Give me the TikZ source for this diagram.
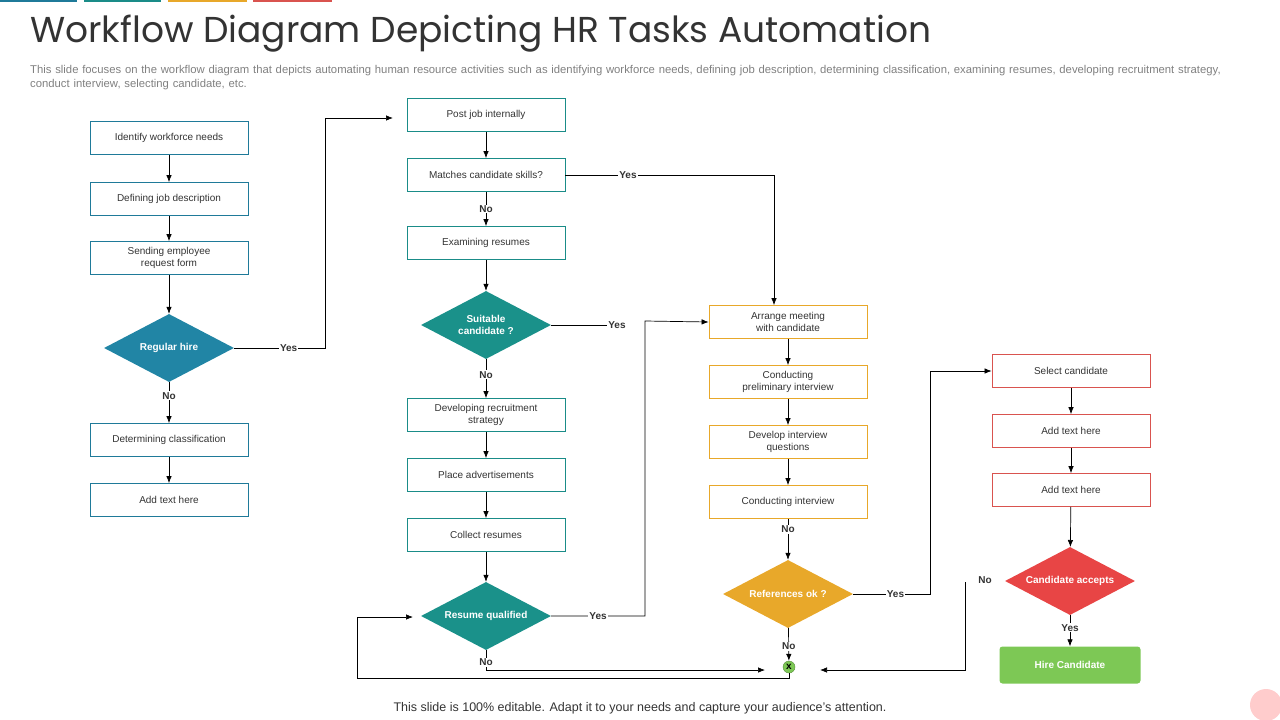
\documentclass[tikz,border=0pt]{standalone}
\usepackage{fontspec}
\setmainfont{Liberation Sans}
\newfontfamily\titlefont{Poppins}
\usetikzlibrary{shapes.geometric,arrows.meta}
\definecolor{cblue}{HTML}{1F7A99}
\definecolor{cteal}{HTML}{1A8C88}
\definecolor{cyel}{HTML}{E8A82A}
\definecolor{cred}{HTML}{D9534F}
\definecolor{dblue}{HTML}{2185A5}
\definecolor{dteal}{HTML}{1A918A}
\definecolor{dred}{HTML}{E84545}
\definecolor{cgreen}{HTML}{7DC855}
\definecolor{tgrey}{HTML}{333333}
\begin{document}
\begin{tikzpicture}[x=1pt,y=-1pt,
 box/.style={draw=#1,line width=0.8pt,minimum width=158pt,minimum height=33pt,align=center,font=\fontsize{10}{11.5}\selectfont,text=tgrey,inner sep=1pt},
 dia/.style={diamond,fill=#1,aspect=1.9,minimum width=130pt,minimum height=68pt,inner sep=0pt,align=center,text=white,font=\bfseries\fontsize{10}{11.5}\selectfont},
 lab/.style={font=\bfseries\fontsize{10}{11}\selectfont,text=tgrey,inner sep=1pt},
 ar/.style={-{Latex[length=7pt,width=5.5pt]},line width=0.7pt},
 ln/.style={line width=0.7pt}]
\useasboundingbox (0,0) rectangle (1280,720);
\fill[cblue] (0,0) rectangle (77,2);
\fill[cteal] (84,0) rectangle (161,2);
\fill[cyel] (168,0) rectangle (247,2);
\fill[cred] (253,0) rectangle (332,2);
\fill[red!20] (1266,705) circle (16);
\node[anchor=west,inner sep=0,font=\titlefont\fontsize{36}{40}\selectfont,text=tgrey] (title) at (30,34) {Workflow Diagram Depicting HR Tasks Automation};
\node[anchor=north west,inner sep=0,text width=1215pt,align=left,font=\fontsize{11.3}{14}\selectfont,text=gray] (sub) at (30,65) {\hyphenpenalty=10000 This slide focuses on the workflow diagram that depicts automating human resource activities such as identifying workforce needs, defining job description, determining classification, examining resumes, developing recruitment strategy, conduct interview, selecting candidate, etc.};
% column 1
\node[box=cblue] (a1) at (169,138) {Identify workforce needs};
\node[box=cblue] (a2) at (169,199) {Defining job description};
\node[box=cblue] (a3) at (169,258) {Sending employee\\request form};
\node[dia=dblue] (a4) at (169,348) {Regular hire};
\node[box=cblue] (a5) at (169,440) {Determining classification};
\node[box=cblue] (a6) at (169,500) {Add text here};
% column 2
\node[box=cteal] (b1) at (486,115) {Post job internally};
\node[box=cteal] (b2) at (486,175) {Matches candidate skills?};
\node[box=cteal] (b3) at (486,243) {Examining resumes};
\node[dia=dteal] (b4) at (486,325) {Suitable\\candidate ?};
\node[box=cteal] (b5) at (486,415) {Developing recruitment\\strategy};
\node[box=cteal] (b6) at (486,475) {Place advertisements};
\node[box=cteal] (b7) at (486,535) {Collect resumes};
\node[dia=dteal] (b8) at (486,616) {Resume qualified};
% column 3
\node[box=cyel] (c1) at (788,322) {Arrange meeting\\with candidate};
\node[box=cyel] (c2) at (788,382) {Conducting\\preliminary interview};
\node[box=cyel] (c3) at (788,442) {Develop interview\\questions};
\node[box=cyel] (c4) at (788,502) {Conducting interview};
\node[dia=cyel] (c5) at (788,594) {References ok ?};
% column 4
\node[box=cred] (d1) at (1071,371) {Select candidate};
\node[box=cred] (d2) at (1071,431) {Add text here};
\node[box=cred] (d3) at (1071,490) {Add text here};
\node[dia=dred] (d4) at (1070,581) {Candidate accepts};
\node[fill=cgreen,rounded corners=3pt,minimum width=141pt,minimum height=37pt,text=white,font=\bfseries\fontsize{10}{11}\selectfont] (d5) at (1070,665) {Hire Candidate};
% junction
\node[circle,fill=cgreen,draw=cgreen!70!black,minimum size=12pt,inner sep=0,font=\bfseries\fontsize{10}{10}\selectfont] (x) at (789,667) {x};
\node[inner sep=0,font=\fontsize{12.5}{14}\selectfont,text=tgrey] (foot) at (640,708) {This slide is 100\% editable. Adapt it to your needs and capture your audience's attention.};
% vertical arrows
\draw[ar] (a1) -- (a2); \draw[ar] (a2) -- (a3); \draw[ar] (a3) -- (a4);
\draw[ar] (a4) -- node[lab,fill=white,pos=0.33]{No} (a5); \draw[ar] (a5) -- (a6);
\draw[ar] (b1) -- (b2); \draw[ar] (b2) -- node[lab,fill=white]{No} (b3); \draw[ar] (b3) -- (b4);
\draw[ar] (b4) -- node[lab,fill=white,pos=0.4]{No} (b5); \draw[ar] (b5) -- (b6); \draw[ar] (b6) -- (b7); \draw[ar] (b7) -- (b8);
\draw[ar] (c1) -- (c2); \draw[ar] (c2) -- (c3); \draw[ar] (c3) -- (c4);
\draw[ar] (c4) -- node[lab,fill=white,pos=0.25]{No} (c5);
\draw[ar] (c5) -- node[lab,fill=white,pos=0.55]{No} (x);
\draw[ar] (d1) -- (d2); \draw[ar] (d2) -- (d3); \draw[ar] (d3) -- (d4);
\draw[ar] (d4) -- node[lab,fill=white,pos=0.4]{Yes} (d5);
% branches
\coordinate (p1) at (393,118);
\draw[ar] (a4.east) -- node[lab,fill=white,pos=0.6]{Yes} (325,348) -- (325,118) -- (p1);
\draw[ar] (b2.east) -- node[lab,fill=white,pos=0.3]{Yes} (774,175) -- (c1.north -| 774,0);
\draw[ln] (b4.east) -- (607,325) node[lab,anchor=west]{Yes};
\draw[ar] (b8.east) -- node[lab,fill=white]{Yes} (645,616) -- (645,321) -- (c1.west);
\coordinate (q1) at (765,670);
\draw[ar] (b8.south) -- node[lab,fill=white,pos=0.6]{No} (486,670) -- (q1);
\coordinate (q2) at (413,617);
\draw[ar] (x.south) -- (789,678) -- (357,678) -- (357,617) -- (q2);
\draw[ar] (c5.east) -- node[lab,fill=white,pos=0.55]{Yes} (930,594) -- (930,371) -- (d1.west);
\coordinate (q3) at (820,670);
\draw[ar] (965,582) -- (965,670) -- (q3);
\node[lab] (no4) at (985,580) {No};
\end{tikzpicture}
\end{document}
